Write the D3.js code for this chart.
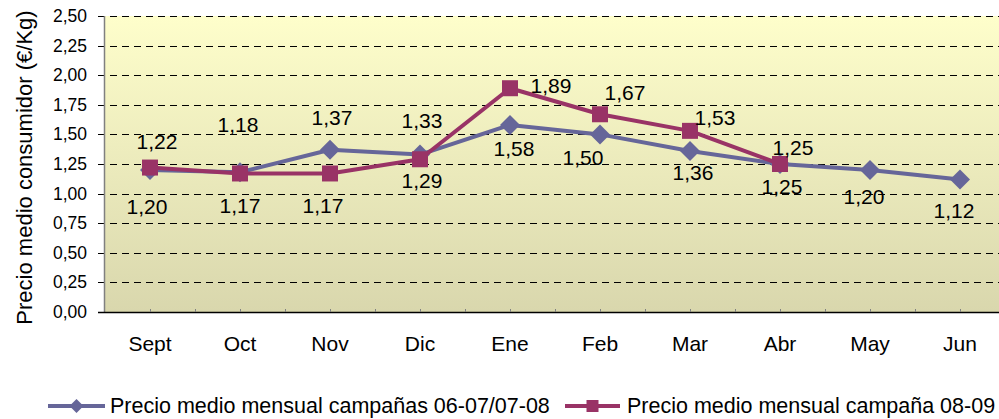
<!DOCTYPE html>
<html>
<head>
<meta charset="utf-8">
<script src="https://cdn.jsdelivr.net/npm/d3@7"></script>
<style>
  html, body { margin: 0; padding: 0; background: #fff; }
  svg { display: block; font-family: "Liberation Sans", Arial, sans-serif; }
</style>
</head>
<body>
<div id="chart"></div>
<script>
const months = ['Sept', 'Oct', 'Nov', 'Dic', 'Ene', 'Feb', 'Mar', 'Abr', 'May', 'Jun']
const prevCampaigns = [1.20, 1.18, 1.37, 1.33, 1.58, 1.50, 1.36, 1.25, 1.20, 1.12]
const campaign0809 = [1.22, 1.17, 1.17, 1.29, 1.89, 1.67, 1.53, 1.25]
const yTicks = [0, 0.25, 0.5, 0.75, 1, 1.25, 1.5, 1.75, 2, 2.25, 2.5]
const seriesNames = ['Precio medio mensual campañas 06-07/07-08', 'Precio medio mensual campaña 08-09']

// where each data label sits, relative to its point (dx, baseline dy)
const prevLabelPos = [[-3, 44], [-2, -40], [2, -25], [2, -27], [4, 31], [-17, 31], [3, 29], [2, 30], [-6, 34], [-6, 39]]
const newLabelPos = [[7, -19], [0, 40], [-7, 40], [2, 29], [41, 5], [25, -14], [25, -6], [13, -9]]

const width = 999, height = 419
const plot = { left: 105, right: 1005, top: 16, bottom: 312 }
const blue = '#666699', red = '#993366'
const fmt = v => d3.format('.2f')(v).replace('.', ',')

const svg = d3.select('#chart').append('svg')
  .attr('width', width)
  .attr('height', height)

const defs = svg.append('defs')
const grad = defs.append('linearGradient')
  .attr('id', 'bg').attr('x1', 0).attr('y1', 0).attr('x2', 0).attr('y2', 1)
grad.append('stop').attr('offset', '0%').attr('stop-color', '#fefecb')
grad.append('stop').attr('offset', '100%').attr('stop-color', '#d9d7ad')

const x = d3.scaleBand()
  .domain(months)
  .range([plot.left, plot.right])
  .padding(0)
const cx = m => x(m) + x.bandwidth() / 2

const y = d3.scaleLinear()
  .domain([0, 2.5])
  .range([plot.bottom, plot.top])

svg.append('rect')
  .attr('x', plot.left).attr('y', plot.top)
  .attr('width', plot.right - plot.left)
  .attr('height', plot.bottom - plot.top)
  .attr('fill', 'url(#bg)')

// dashed gridlines + y tick labels
const yAxis = svg.append('g')
yAxis.selectAll('line.grid')
  .data(yTicks.filter(t => t > 0))
  .enter().append('line')
  .attr('class', 'grid')
  .attr('x1', plot.left - 7).attr('x2', plot.right)
  .attr('y1', d => Math.round(y(d)) + 0.5).attr('y2', d => Math.round(y(d)) + 0.5)
  .attr('stroke', '#000')
  .attr('stroke-width', 1)
  .attr('stroke-dasharray', '7,5')

yAxis.selectAll('text')
  .data(yTicks)
  .enter().append('text')
  .attr('x', 87)
  .attr('y', d => y(d) + 6)
  .attr('text-anchor', 'end')
  .style('font-size', '17.5px')
  .text(d => fmt(d))

// left axis line
svg.append('line')
  .attr('x1', plot.left - 0.5).attr('x2', plot.left - 0.5)
  .attr('y1', plot.top).attr('y2', plot.bottom)
  .attr('stroke', '#808080').attr('stroke-width', 1.5)

// x axis line, ticks at band edges and centres
svg.append('line')
  .attr('x1', plot.left - 7).attr('x2', plot.right)
  .attr('y1', plot.bottom + 0.5).attr('y2', plot.bottom + 0.5)
  .attr('stroke', '#000').attr('stroke-width', 1.5)

const tickXs = months.flatMap(m => [x(m), cx(m)]).filter(v => v > plot.left)
svg.append('g').selectAll('line')
  .data(tickXs)
  .enter().append('line')
  .attr('x1', d => Math.round(d) + 0.5).attr('x2', d => Math.round(d) + 0.5)
  .attr('y1', plot.bottom - 3).attr('y2', plot.bottom)
  .attr('stroke', '#808080')

svg.append('g').selectAll('text')
  .data(months)
  .enter().append('text')
  .attr('x', d => cx(d))
  .attr('y', 351)
  .attr('text-anchor', 'middle')
  .style('font-size', '21px')
  .text(d => d)

// y title
svg.append('text')
  .attr('transform', `translate(32, ${(13 + 322) / 2}) rotate(-90)`)
  .attr('text-anchor', 'middle')
  .style('font-size', '22px')
  .text('Precio medio consumidor (€/Kg)')

const line = d3.line()
  .x(d => cx(d.m))
  .y(d => y(d.v))

const prevData = prevCampaigns.map((v, i) => ({ m: months[i], v: v, pos: prevLabelPos[i] }))
const newData = campaign0809.map((v, i) => ({ m: months[i], v: v, pos: newLabelPos[i] }))

const diamond = r => `M0,${-r}L${r},0L0,${r}L${-r},0Z`

function drawSeries(data, color, marker) {
  const g = svg.append('g')
  g.append('path')
    .datum(data)
    .attr('d', line)
    .attr('fill', 'none')
    .attr('stroke', color)
    .attr('stroke-width', 4)
    .attr('stroke-linejoin', 'round')
  g.selectAll('path.mark')
    .data(data)
    .enter().append('path')
    .attr('class', 'mark')
    .attr('transform', d => `translate(${cx(d.m)},${y(d.v)})`)
    .attr('d', marker)
    .attr('fill', color)
}

function drawLabels(data) {
  svg.append('g').selectAll('text')
    .data(data)
    .enter().append('text')
    .attr('x', d => cx(d.m) + d.pos[0])
    .attr('y', d => y(d.v) + d.pos[1])
    .attr('text-anchor', 'middle')
    .style('font-size', '21px')
    .text(d => fmt(d.v))
}

drawSeries(prevData, blue, diamond(10))
drawSeries(newData, red, 'M-8,-8H8V8H-8Z')
drawLabels(prevData)
drawLabels(newData)

// legend
const legend = [
  { name: seriesNames[0], color: blue, x1: 48, x2: 105, marker: diamond(7), tx: 110 },
  { name: seriesNames[1], color: red, x1: 565, x2: 620, marker: 'M-6,-6H6V6H-6Z', tx: 627 }
]
const lg = svg.append('g').selectAll('g')
  .data(legend)
  .enter().append('g')
lg.append('line')
  .attr('x1', d => d.x1).attr('x2', d => d.x2)
  .attr('y1', 406).attr('y2', 406)
  .attr('stroke', d => d.color).attr('stroke-width', 4)
lg.append('path')
  .attr('transform', d => `translate(${(d.x1 + d.x2) / 2},406)`)
  .attr('d', d => d.marker)
  .attr('fill', d => d.color)
lg.append('text')
  .attr('x', d => d.tx)
  .attr('y', 413)
  .style('font-size', '21.5px')
  .text(d => d.name)
</script>
</body>
</html>
